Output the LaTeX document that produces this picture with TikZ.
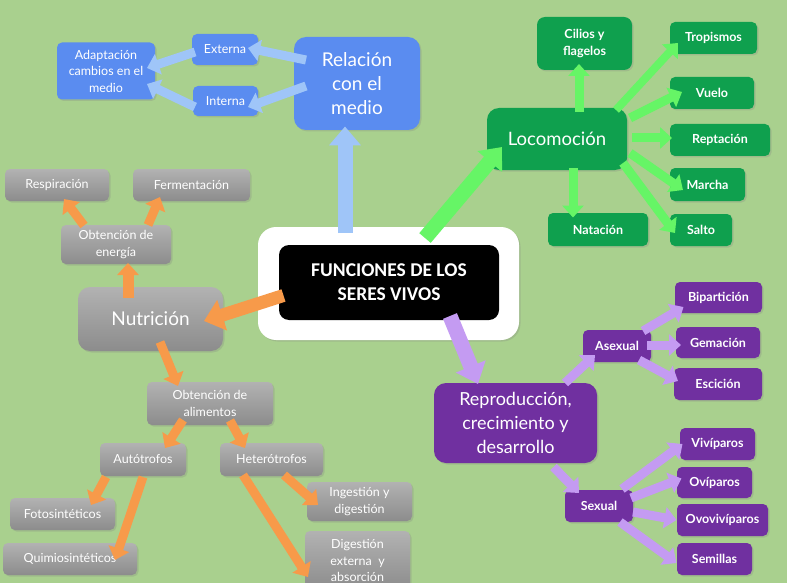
\documentclass[tikz,border=0pt]{standalone}
\usepackage{fontspec}
\setmainfont{Lato}
\newfontfamily\calib{Carlito}
\usetikzlibrary{arrows.meta,calc,shadows}
\definecolor{bg}{HTML}{A9D08E}
\definecolor{bluebox}{HTML}{5A8CF0}
\definecolor{bluearr}{HTML}{9FC5F8}
\definecolor{greenbox}{HTML}{0FA04E}
\definecolor{greenarr}{HTML}{66F566}
\definecolor{graytop}{HTML}{B2B2B2}
\definecolor{graybot}{HTML}{8C8C8C}
\definecolor{orangearr}{HTML}{F79A4A}
\definecolor{purplebox}{HTML}{7030A0}
\definecolor{purplearr}{HTML}{C49BF2}
\tikzset{
  box/.style={rounded corners=5pt, text=white, align=center, inner sep=2pt,
    font=\fontsize{12.5}{16.5}\selectfont,
    drop shadow={shadow xshift=1.5pt,shadow yshift=-1.5pt,opacity=0.25}},
  bigbox/.style={box, rounded corners=12pt, font=\fontsize{19}{24}\selectfont},
  bbox/.style={box, fill=bluebox},
  gnbox/.style={box, fill=greenbox, font=\fontsize{12.5}{16.5}\selectfont\bfseries},
  grbox/.style={box, top color=graytop, bottom color=graybot},
  pbox/.style={box, fill=purplebox, font=\fontsize{12.5}{16.5}\selectfont\bfseries},
  arr/.style={line width=9pt, -{Triangle[length=12pt,width=21pt]}},
  bigarr/.style={line width=15pt, -{Triangle[length=19pt,width=31pt]}},
  barr/.style={arr, draw=bluearr},
  garr/.style={arr, draw=greenarr},
  oarr/.style={arr, draw=orangearr},
  parr/.style={arr, draw=purplearr},
}
\begin{document}
\begin{tikzpicture}[x=1pt,y=-1pt]
\useasboundingbox (0,0) rectangle (787,583);
\fill[bg] (0,0) rectangle (787,583);

% centre
\node[rounded corners=18pt, fill=white, minimum width=261pt, minimum height=113pt,
  drop shadow={shadow xshift=1.5pt,shadow yshift=-1.5pt,opacity=0.25}] (white) at (388.5,283.5) {};
\node[rounded corners=10pt, fill=black, minimum width=220pt, minimum height=75pt,
  text=white, align=center, font=\calib\bfseries\fontsize{19.5}{24}\selectfont] (center) at (389,282.5)
  {FUNCIONES DE LOS\\SERES VIVOS};

% blue
\node[bbox, minimum width=98pt, minimum height=57pt] (adapt) at (106,71) {Adaptación\\cambios en el\\medio};
\node[bbox, minimum width=66pt, minimum height=31pt] (ext) at (225,49.5) {Externa};
\node[bbox, minimum width=65pt, minimum height=30pt] (int) at (225.5,101) {Interna};
\node[bigbox, fill=bluebox, minimum width=126pt, minimum height=93pt] (rel) at (357,83.5) {Relación\\con el\\medio};

% green
\node[gnbox, rounded corners=8pt, minimum width=95pt, minimum height=53pt] (cil) at (584.5,43.5) {Cilios y\\flagelos};
\node[gnbox, minimum width=87pt, minimum height=32pt] (trop) at (713.5,38) {Tropismos};
\node[gnbox, minimum width=84pt, minimum height=32pt] (vuelo) at (712,93) {Vuelo};
\node[gnbox, minimum width=100pt, minimum height=32pt] (rept) at (720,140) {Reptación};
\node[gnbox, minimum width=75pt, minimum height=33pt] (march) at (707.5,184.5) {Marcha};
\node[gnbox, minimum width=62pt, minimum height=32pt] (salto) at (701,230) {Salto};
\node[gnbox, minimum width=100pt, minimum height=33pt] (nat) at (598,229.5) {Natación};
\node[bigbox, fill=greenbox, font=\fontsize{18.5}{22}\selectfont, minimum width=140pt, minimum height=62pt] (loc) at (557,139) {Locomoción};

% gray
\node[grbox, minimum width=104pt, minimum height=32pt] (resp) at (57,185) {Respiración};
\node[grbox, minimum width=117pt, minimum height=32pt] (ferm) at (191.5,185) {Fermentación};
\node[grbox, minimum width=110pt, minimum height=39pt] (oen) at (116,244.5) {Obtención de\\energía};
\node[bigbox, top color=graytop, bottom color=graybot, minimum width=145pt, minimum height=64pt] (nut) at (150.5,319) {Nutrición};
\node[grbox, minimum width=126pt, minimum height=43pt] (oal) at (210,403.5) {Obtención de\\alimentos};
\node[grbox, minimum width=86pt, minimum height=33pt] (auto) at (143,459.5) {Autótrofos};
\node[grbox, minimum width=103pt, minimum height=33pt] (het) at (271.5,459.5) {Heterótrofos};
\node[grbox, minimum width=105pt, minimum height=32pt] (foto) at (62.5,514) {Fotosintéticos};
\node[grbox, minimum width=134pt, minimum height=32pt] (quim) at (70,559) {Quimiosintéticos};
\node[grbox, minimum width=105pt, minimum height=39pt] (ing) at (359.5,501.5) {Ingestión y\\digestión};
\node[grbox, minimum width=105pt, minimum height=59pt] (dig) at (357.5,560.5) {Digestión\\externa~ y\\absorción};

% purple
\node[bigbox, fill=purplebox, font=\fontsize{18}{24}\selectfont, minimum width=163pt, minimum height=80pt] (rep) at (515.5,423) {Reproducción,\\crecimiento y\\desarrollo};
\node[pbox, minimum width=68pt, minimum height=32pt] (asex) at (617,346) {Asexual};
\node[pbox, minimum width=68pt, minimum height=32pt] (sex) at (599,506) {Sexual};
\node[pbox, minimum width=87pt, minimum height=31pt] (bip) at (718.5,297.5) {Bipartición};
\node[pbox, minimum width=84pt, minimum height=31pt] (gem) at (718,342.5) {Gemación};
\node[pbox, minimum width=88pt, minimum height=32pt] (esc) at (718,384) {Escición};
\node[pbox, minimum width=75pt, minimum height=32pt] (viv) at (717.5,444) {Vivíparos};
\node[pbox, minimum width=75pt, minimum height=31pt] (ovi) at (714.5,482.5) {Ovíparos};
\node[pbox, minimum width=91pt, minimum height=32pt] (ovov) at (722.5,520) {Ovovivíparos};
\node[pbox, minimum width=75pt, minimum height=32pt] (sem) at (714.5,559) {Semillas};

% blue arrows
\draw[barr] ($(rel)+(-51,-23.5)$) -- ($(ext)+(23,-1.5)$);
\draw[barr] ($(rel)+(-51,2.5)$) -- ($(int)+(22.5,6)$);
\draw[barr] ($(ext)+(-30,2.5)$) -- ($(adapt)+(41,-3)$);
\draw[barr] ($(int)+(-30.5,6)$) -- ($(adapt)+(41,13)$);
\draw[bigarr, draw=bluearr] ($(white)+(-43.5,-50.5)$) -- ($(rel)+(-12,43)$);

% green arrows
\draw[bigarr, draw=greenarr] ($(white)+(36.5,-45.5)$) -- ($(loc)+(-55,8)$);
\draw[garr] ($(loc)+(22,-27)$) -- ($(cil)+(-5.5,20.5)$);
\draw[garr, line width=8pt] ($(loc)+(59,-29)$) -- ($(trop)+(-35.5,5)$);
\draw[garr] ($(loc)+(73,-21)$) -- ($(vuelo)+(-30,-1)$);
\draw[garr] ($(loc)+(75,-1)$) -- ($(rept)+(-48,-2)$);
\draw[garr] ($(loc)+(73,14)$) -- ($(march)+(-24.5,5.5)$);
\draw[garr] ($(loc)+(66,24)$) -- ($(salto)+(-26,3)$);
\draw[garr] ($(loc)+(16,29)$) -- ($(nat)+(-25,-12)$);

% orange arrows
\draw[bigarr, draw=orangearr, line width=13pt] ($(white)+(-105,12)$) -- ($(nut)+(53.5,2)$);
\draw[oarr, line width=11pt] ($(nut)+(-22.5,-21)$) -- ($(oen)+(12,18.5)$);
\draw[oarr] ($(oen)+(-32,-19)$) -- ($(resp)+(7,14)$);
\draw[oarr] ($(oen)+(32,-19.5)$) -- ($(ferm)+(-31.5,12)$);
\draw[oarr] ($(nut)+(9.5,23)$) -- ($(oal)+(-32,-17.5)$);
\draw[oarr] ($(oal)+(-27,16.5)$) -- ($(auto)+(22,-11.5)$);
\draw[oarr] ($(oal)+(20,17)$) -- ($(het)+(-26.5,-11.5)$);
\draw[oarr] ($(auto)+(-37,17.5)$) -- ($(foto)+(28.5,-9)$);
\draw[oarr] ($(auto)+(0,17.5)$) -- ($(quim)+(45,1)$);
\draw[oarr] ($(het)+(12.5,15.5)$) -- ($(ing)+(-41.5,3.5)$);
\draw[oarr] ($(het)+(-28.5,15.5)$) -- ($(dig)+(-49.5,16.5)$);

% purple arrows
\draw[bigarr, draw=purplearr] ($(white)+(61.5,32.5)$) -- ($(rep)+(-37.5,-39)$);
\draw[parr] ($(rep)+(49.5,-40)$) -- ($(asex)+(-22,9)$);
\draw[parr] ($(rep)+(38,44)$) -- ($(sex)+(-20,-13)$);
\draw[parr] ($(asex)+(26,-15)$) -- ($(bip)+(-35,9.5)$);
\draw[parr] ($(asex)+(30,-1)$) -- ($(gem)+(-37,2.5)$);
\draw[parr] ($(asex)+(22,14)$) -- ($(esc)+(-40,-3)$);
\draw[parr] ($(sex)+(23,-17)$) -- ($(viv)+(-35,0)$);
\draw[parr] ($(sex)+(32,-8)$) -- ($(ovi)+(-33,-4)$);
\draw[parr] ($(sex)+(34,6)$) -- ($(ovov)+(-46,0)$);
\draw[parr] ($(sex)+(21,16)$) -- ($(sem)+(-38,4)$);
\end{tikzpicture}
\end{document}
